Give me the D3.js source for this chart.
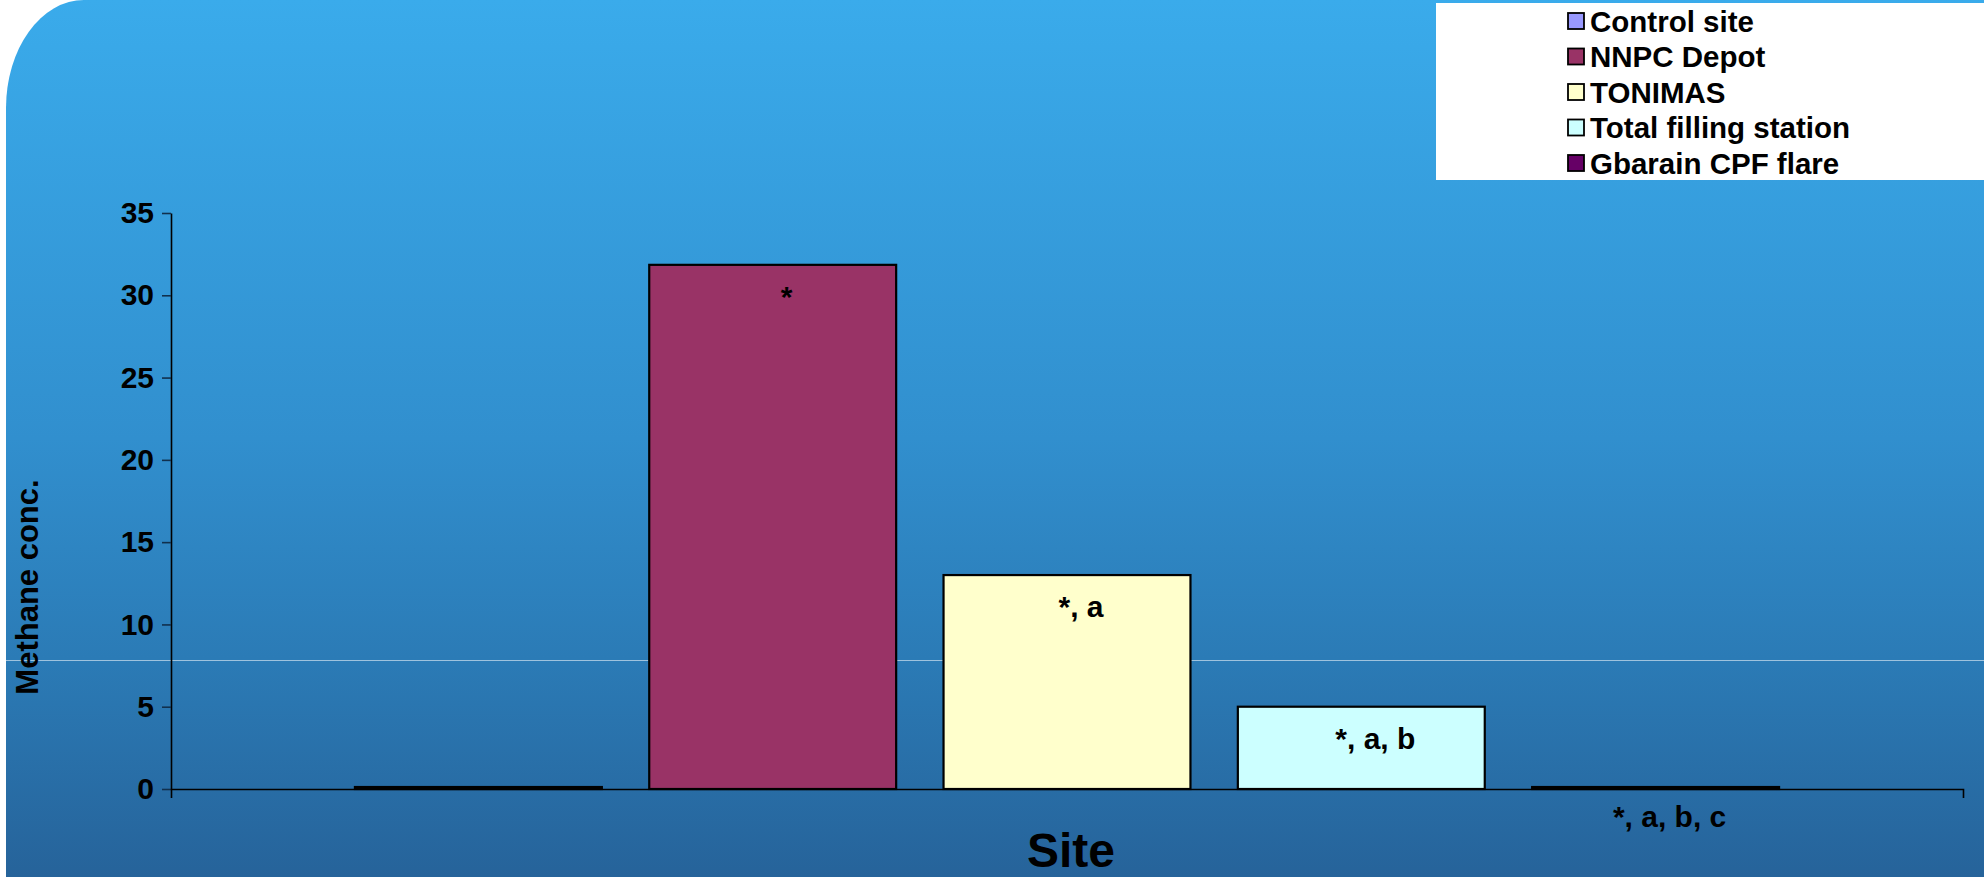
<!DOCTYPE html>
<html>
<head>
<meta charset="utf-8">
<script src="https://cdn.jsdelivr.net/npm/d3@7"></script>
<style>
  html, body { margin: 0; padding: 0; background: #ffffff; overflow: hidden; }
  svg { display: block; }
  text { font-family: "Liberation Sans", Arial, Helvetica, sans-serif; font-weight: bold; fill: #000; }
</style>
</head>
<body>
<svg id="chart" width="1984" height="877"></svg>
<script>
// Methane concentration by sampling site
const sites = ["Control site", "NNPC Depot", "TONIMAS", "Total filling station", "Gbarain CPF flare"];
const methane = [0.12, 31.85, 13.0, 5.0, 0.12];
const sigLabels = ["", "*", "*, a", "*, a, b", "*, a, b, c"];
const siteColors = ["#9999FF", "#993366", "#FFFFCC", "#CCFFFF", "#660066"];
const yTicks = [0, 5, 10, 15, 20, 25, 30, 35];
const xTitle = "Site";
const yTitle = "Methane conc.";

const W = 1984, H = 877;
const svg = d3.select("#chart");

// Slide-style backdrop: blue gradient panel with a rounded top-left corner
const defs = svg.append("defs");
const grad = defs.append("linearGradient")
  .attr("id", "bg").attr("gradientUnits", "userSpaceOnUse")
  .attr("x1", 0).attr("y1", 0).attr("x2", 0).attr("y2", H);
grad.append("stop").attr("offset", 0).attr("stop-color", "#3AABEB");
grad.append("stop").attr("offset", 0.5).attr("stop-color", "#318FCE");
grad.append("stop").attr("offset", 0.75).attr("stop-color", "#2B7BB6");
grad.append("stop").attr("offset", 1).attr("stop-color", "#26639A");

svg.append("path")
  .attr("d", `M6,108 A78,108 0 0 1 84,0 H${W} V${H} H6 Z`)
  .attr("fill", "url(#bg)");

svg.append("line")
  .attr("x1", 6).attr("x2", W).attr("y1", 660.5).attr("y2", 660.5)
  .attr("stroke", "#ffffff").attr("stroke-opacity", 0.55).attr("stroke-width", 1);

// Plot area
const plotLeft = 171, plotRight = 1963, plotTop = 213, plotBottom = 789;

const y = d3.scaleLinear().domain([0, 35]).range([plotBottom, plotTop]);
const xOuter = d3.scaleBand().domain([xTitle]).range([plotLeft, plotRight]);
const x = d3.scaleBand().domain(sites).range([plotLeft, plotRight])
  .paddingInner(0.161).paddingOuter(0.625);

// Bars
svg.append("g").selectAll("rect")
  .data(sites)
  .join("rect")
  .attr("x", d => x(d))
  .attr("width", x.bandwidth())
  .attr("y", (d, i) => y(methane[i]))
  .attr("height", (d, i) => y(0) - y(methane[i]))
  .attr("fill", (d, i) => siteColors[i])
  .attr("stroke", "#000")
  .attr("stroke-width", 2.2);

// Axes
const yAxis = svg.append("g")
  .attr("transform", `translate(${plotLeft},0)`)
  .call(d3.axisLeft(y).tickValues(yTicks).tickSize(9).tickSizeOuter(0).tickPadding(8));
yAxis.select(".domain").attr("stroke", "#000").attr("stroke-width", 1.6);
yAxis.selectAll(".tick line").attr("stroke", "#11304d").attr("stroke-width", 1.6);
yAxis.selectAll(".tick text")
  .attr("font-size", 30).attr("font-family", "Liberation Sans, Arial, sans-serif")
  .attr("font-weight", "bold").attr("fill", "#000");

const xAxis = svg.append("g")
  .attr("transform", `translate(0,${plotBottom})`)
  .call(d3.axisBottom(xOuter).tickValues([]).tickSizeOuter(9));
xAxis.select(".domain").attr("stroke", "#000").attr("stroke-width", 1.6);

// Significance labels on the bars (below the axis when the bar is too short)
svg.append("g").selectAll("text")
  .data(sites)
  .join("text")
  .attr("text-anchor", "middle")
  .attr("font-size", 30)
  .attr("x", d => x(d) + x.bandwidth() / 2 + 14)
  .attr("y", (d, i) => (y(0) - y(methane[i]) > 40) ? y(methane[i]) + 42 : y(0) + 38)
  .text((d, i) => sigLabels[i]);

// Axis titles
svg.append("text")
  .attr("x", (plotLeft + plotRight) / 2 + 4).attr("y", 867)
  .attr("text-anchor", "middle").attr("font-size", 48)
  .text(xTitle);

svg.append("text")
  .attr("transform", "translate(38,587) rotate(-90)")
  .attr("text-anchor", "middle").attr("font-size", 31)
  .text(yTitle);

// Legend
const legend = svg.append("g");
legend.append("rect")
  .attr("x", 1436).attr("y", 3).attr("width", W - 1436).attr("height", 177)
  .attr("fill", "#ffffff");
const rows = legend.selectAll("g.row")
  .data(sites)
  .join("g").attr("class", "row")
  .attr("transform", (d, i) => `translate(1568,${21 + i * 35.5})`);
rows.append("rect")
  .attr("x", 0).attr("y", -8).attr("width", 16).attr("height", 16)
  .attr("fill", (d, i) => siteColors[i])
  .attr("stroke", "#000").attr("stroke-width", 1.8);
rows.append("text")
  .attr("x", 22).attr("y", 10.5)
  .attr("font-size", 29.5)
  .text(d => d);
</script>
</body>
</html>
